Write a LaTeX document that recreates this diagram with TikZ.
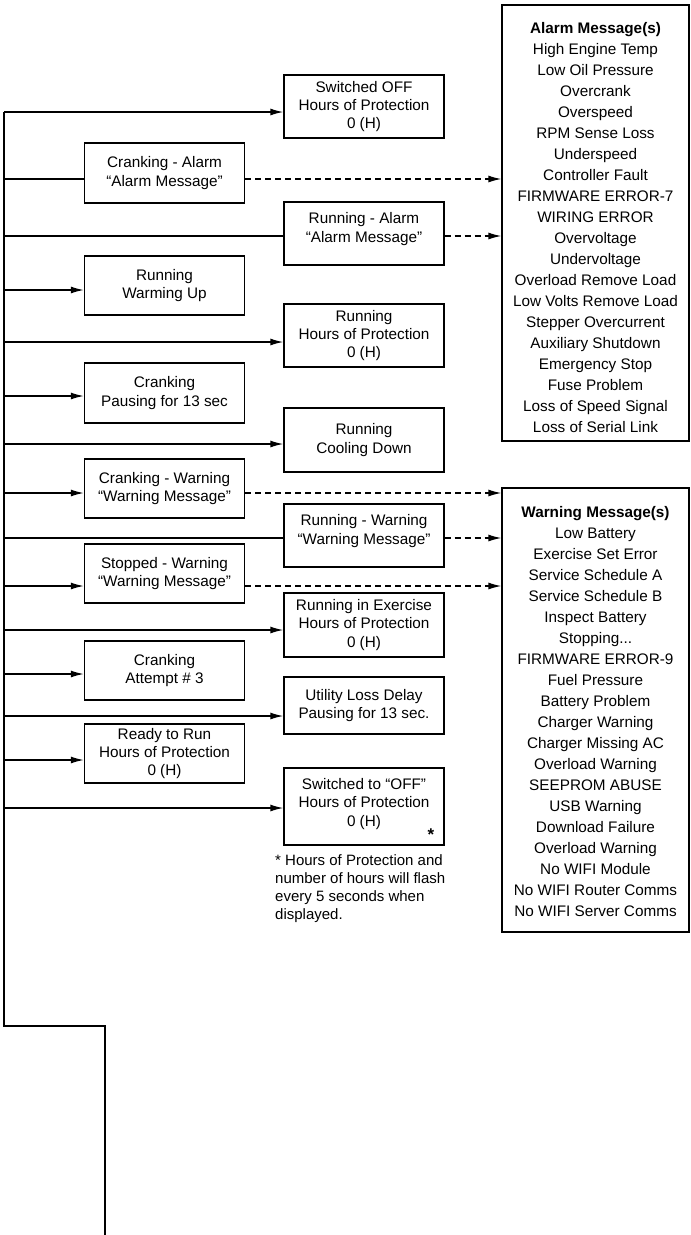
\documentclass[tikz,border=0pt]{standalone}
\usepackage{fontspec}
\setmainfont{Liberation Sans}
\usetikzlibrary{arrows.meta}

\begin{document}
\begin{tikzpicture}[x=1pt,y=-1pt,
    state/.style={draw, line width=1.3pt, minimum width=160pt, align=center, inner sep=0pt,
                  font=\fontsize{15.3}{18.3}\selectfont},
    msgbox/.style={draw, line width=1.3pt, minimum width=187pt, align=center, inner sep=0pt,
                  font=\fontsize{15.3}{21}\selectfont},
    arr/.style={line width=1.4pt, -{Latex[length=13pt,width=7pt]}},
    plain/.style={line width=1.4pt},
    dasharr/.style={line width=1.3pt, dash pattern=on 6pt off 4pt, -{Latex[length=13pt,width=7pt]}}]
    \useasboundingbox (0,0) rectangle (691,1235);

% left column
\node[state, minimum height=60pt] (crankAlarm) at (164.5,173) {Cranking - Alarm\\“Alarm Message”};
\node[state, minimum height=59pt] (warmUp) at (164.5,285.5) {Running\\Warming Up};
\node[state, minimum height=60pt] (crankPause) at (164.5,393) {Cranking\\Pausing for 13 sec};
\node[state, minimum height=59pt] (crankWarn) at (164.5,488.5) {Cranking - Warning\\“Warning Message”};
\node[state, minimum height=59pt] (stopWarn) at (164.5,573.5) {Stopped - Warning\\“Warning Message”};
\node[state, minimum height=59pt] (crankAttempt) at (164.5,670.5) {Cranking\\Attempt \# 3};
\node[state, minimum height=59pt] (readyRun) at (164.5,753.5) {Ready to Run\\Hours of Protection\\0 (H)};

% right column
\node[state, minimum height=63pt] (offBox) at (364,106.5) {Switched OFF\\Hours of Protection\\0 (H)};
\node[state, minimum height=63pt] (runAlarm) at (364,233.5) {Running - Alarm\\“Alarm Message”\\[-6pt]};
\node[state, minimum height=63pt] (runHours) at (364,335.5) {Running\\Hours of Protection\\0 (H)};
\node[state, minimum height=64pt] (coolDown) at (364,440) {Running\\Cooling Down};
\node[state, minimum height=63pt] (runWarn) at (364,535.5) {Running - Warning\\“Warning Message”\\[-6pt]};
\node[state, minimum height=64pt] (exercise) at (364,625) {Running in Exercise\\Hours of Protection\\0 (H)};
\node[state, minimum height=57pt] (utilLoss) at (364,705.5) {Utility Loss Delay\\Pausing for 13 sec.};
\node[state, minimum height=77pt] (offSwitch) at (364,806.5) {Switched to “OFF”\\Hours of Protection\\0 (H)\\[-10pt]};
\node[font=\fontsize{17}{17}\selectfont\bfseries, inner sep=0pt] (star) at (431,835) {*};

\node[anchor=north west, align=left, inner sep=0pt, font=\fontsize{15}{18.3}\selectfont] (note) at (275,854)
    {* Hours of Protection and\\number of hours will flash\\every 5 seconds when\\displayed.};

% message lists
\node[msgbox, minimum height=436pt] (alarmBox) at (595.5,223) {\mbox{}\\\textbf{Alarm Message(s)}\\High Engine Temp\\Low Oil Pressure\\Overcrank\\Overspeed\\RPM Sense Loss\\Underspeed\\Controller Fault\\FIRMWARE ERROR-7\\WIRING ERROR\\Overvoltage\\Undervoltage\\Overload Remove Load\\Low Volts Remove Load\\Stepper Overcurrent\\Auxiliary Shutdown\\Emergency Stop\\Fuse Problem\\Loss of Speed Signal\\Loss of Serial Link};
\node[msgbox, minimum height=444pt] (warnBox) at (595.5,710) {\mbox{}\\[-6pt]\textbf{Warning Message(s)}\\Low Battery\\Exercise Set Error\\Service Schedule A\\Service Schedule B\\Inspect Battery\\Stopping...\\FIRMWARE ERROR-9\\Fuel Pressure\\Battery Problem\\Charger Warning\\Charger Missing AC\\Overload Warning\\SEEPROM ABUSE\\USB Warning\\Download Failure\\Overload Warning\\No WIFI Module\\No WIFI Router Comms\\No WIFI Server Comms};

% spine
\coordinate (s1) at (4,112);
\coordinate (s2) at (4,179);
\coordinate (s3) at (4,236);
\coordinate (s4) at (4,290);
\coordinate (s5) at (4,342);
\coordinate (s6) at (4,396);
\coordinate (s7) at (4,444);
\coordinate (s8) at (4,493);
\coordinate (s9) at (4,538);
\coordinate (s10) at (4,586);
\coordinate (s11) at (4,630);
\coordinate (s12) at (4,674);
\coordinate (s13) at (4,716);
\coordinate (s14) at (4,760);
\coordinate (s15) at (4,808);
\coordinate (bendA) at (4,1026);
\coordinate (bendB) at (105,1026);
\coordinate (spineEnd) at (105,1235);
\draw[plain] (s1) -- (bendA) -- (bendB) -- (spineEnd);

\draw[arr] (s1) -- (s1 -| offBox.west);
\draw[plain] (s2) -- (s2 -| crankAlarm.west);
\draw[plain] (s3) -- (s3 -| runAlarm.west);
\draw[arr] (s4) -- (s4 -| warmUp.west);
\draw[arr] (s5) -- (s5 -| runHours.west);
\draw[arr] (s6) -- (s6 -| crankPause.west);
\draw[arr] (s7) -- (s7 -| coolDown.west);
\draw[arr] (s8) -- (s8 -| crankWarn.west);
\draw[plain] (s9) -- (s9 -| runWarn.west);
\draw[arr] (s10) -- (s10 -| stopWarn.west);
\draw[arr] (s11) -- (s11 -| exercise.west);
\draw[arr] (s12) -- (s12 -| crankAttempt.west);
\draw[arr] (s13) -- (s13 -| utilLoss.west);
\draw[arr] (s14) -- (s14 -| readyRun.west);
\draw[arr] (s15) -- (s15 -| offSwitch.west);

% to the message lists
\draw[dasharr] (crankAlarm.east |- s2) -- (alarmBox.west |- s2);
\draw[dasharr] (runAlarm.east |- s3) -- (alarmBox.west |- s3);
\draw[dasharr] (crankWarn.east |- s8) -- (warnBox.west |- s8);
\draw[dasharr] (runWarn.east |- s9) -- (warnBox.west |- s9);
\draw[dasharr] (stopWarn.east |- s10) -- (warnBox.west |- s10);

\end{tikzpicture}
\end{document}
